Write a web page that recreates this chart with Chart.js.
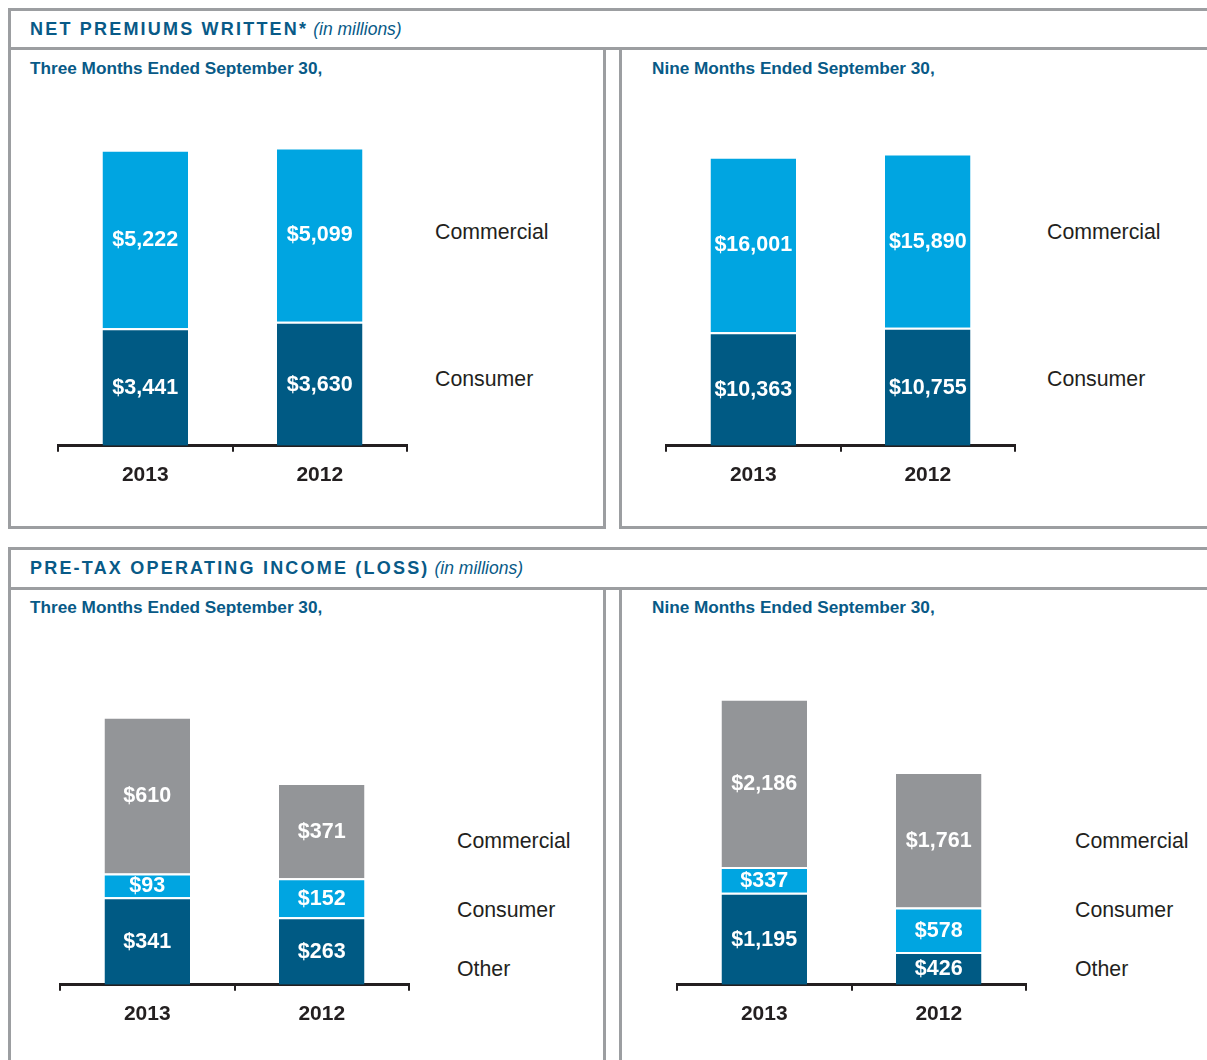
<!DOCTYPE html>
<html>
<head>
<meta charset="utf-8">
<title>Net premiums written / Pre-tax operating income</title>
<script src="https://cdn.jsdelivr.net/npm/chart.js@4.4.0/dist/chart.umd.min.js"></script>
<style>
  body { margin: 0; background: #fff; font-family: "Liberation Sans", Arial, sans-serif; }
  #page { position: relative; width: 1207px; height: 1060px; overflow: hidden; }
  .line { position: absolute; background: #9c9ea1; }
  .head { position: absolute; left: 30px; font-size: 18px; font-weight: bold; letter-spacing: 2.2px; color: #085a87; line-height: 20px; white-space: nowrap; }
  .head i { font-weight: normal; letter-spacing: 0; font-size: 17.5px; margin-left: 5px; }
  .sub { position: absolute; font-size: 17.2px; font-weight: bold; color: #085a87; line-height: 20px; white-space: nowrap; }
  .side { position: absolute; font-size: 21.3px; color: #231f20; line-height: 24px; }
  .chart { position: absolute; width: 390px; height: 410px; }
</style>
</head>
<body>
<div id="page">
  <!-- frame, top block -->
  <div class="line" style="left:8px;top:8px;width:1199px;height:3px"></div>
  <div class="line" style="left:8px;top:47px;width:1199px;height:3px"></div>
  <div class="line" style="left:8px;top:8px;width:3px;height:521px"></div>
  <div class="line" style="left:603px;top:47px;width:3px;height:482px"></div>
  <div class="line" style="left:619px;top:47px;width:3px;height:482px"></div>
  <div class="line" style="left:8px;top:526px;width:598px;height:3px"></div>
  <div class="line" style="left:619px;top:526px;width:588px;height:3px"></div>
  <!-- frame, bottom block -->
  <div class="line" style="left:8px;top:547px;width:1199px;height:3px"></div>
  <div class="line" style="left:8px;top:587px;width:1199px;height:3px"></div>
  <div class="line" style="left:8px;top:547px;width:3px;height:513px"></div>
  <div class="line" style="left:603px;top:587px;width:3px;height:473px"></div>
  <div class="line" style="left:619px;top:587px;width:3px;height:473px"></div>

  <div class="head" style="top:19px">NET PREMIUMS WRITTEN*<i>(in millions)</i></div>
  <div class="sub" style="left:30px;top:58px">Three Months Ended September 30,</div>
  <div class="sub" style="left:652px;top:58px">Nine Months Ended September 30,</div>

  <div class="head" style="top:558px">PRE-TAX OPERATING INCOME (LOSS)<i>(in millions)</i></div>
  <div class="sub" style="left:30px;top:597px">Three Months Ended September 30,</div>
  <div class="sub" style="left:652px;top:597px">Nine Months Ended September 30,</div>

  <div class="chart" style="left:40px;top:90px"><canvas id="npwThree"></canvas></div>
  <div class="chart" style="left:648px;top:90px"><canvas id="npwNine"></canvas></div>
  <div class="chart" style="left:42px;top:629px"><canvas id="ptoiThree"></canvas></div>
  <div class="chart" style="left:659px;top:629px"><canvas id="ptoiNine"></canvas></div>

  <div class="side" style="left:435px;top:220px">Commercial</div>
  <div class="side" style="left:435px;top:367px">Consumer</div>
  <div class="side" style="left:1047px;top:220px">Commercial</div>
  <div class="side" style="left:1047px;top:367px">Consumer</div>

  <div class="side" style="left:457px;top:829px">Commercial</div>
  <div class="side" style="left:457px;top:898px">Consumer</div>
  <div class="side" style="left:457px;top:957px">Other</div>
  <div class="side" style="left:1075px;top:829px">Commercial</div>
  <div class="side" style="left:1075px;top:898px">Consumer</div>
  <div class="side" style="left:1075px;top:957px">Other</div>
</div>

<script>
// data (in millions)
const years = ['2013', '2012']

// net premiums written
const npwThreeCommercial = [5222, 5099]
const npwThreeConsumer = [3441, 3630]
const npwNineCommercial = [16001, 15890]
const npwNineConsumer = [10363, 10755]

// pre-tax operating income, stacked bottom -> top: dark, light, gray
const ptoiThreeDark = [341, 263]
const ptoiThreeLight = [93, 152]
const ptoiThreeGray = [610, 371]
const ptoiNineDark = [1195, 426]
const ptoiNineLight = [337, 578]
const ptoiNineGray = [2186, 1761]

const DARK = '#005a84'
const LIGHT = '#00a5e1'
const GRAY = '#939598'
const INK = '#231f20'
const FONT = '"Liberation Sans", Arial, sans-serif'

// white $ labels in the middle of each segment
const barLabels = {
    id: 'barLabels',
    afterDatasetsDraw(chart) {
        const ctx = chart.ctx
        ctx.save()
        ctx.fillStyle = '#fff'
        ctx.font = 'bold 21.5px ' + FONT
        ctx.textAlign = 'center'
        ctx.textBaseline = 'middle'
        chart.data.datasets.forEach((ds, i) => {
            chart.getDatasetMeta(i).data.forEach((bar, j) => {
                const { x, y, base } = bar.getProps(['x', 'y', 'base'], true)
                ctx.fillText('$' + ds.data[j].toLocaleString('en-US'), x, (y + base) / 2 + 1)
            })
        })
        ctx.restore()
    }
}

function serie(label, data, color) {
    return {
        label: label,
        data: data,
        backgroundColor: color,
        borderColor: '#fff',
        borderWidth: { top: 2, left: 0, right: 0, bottom: 0 },
        borderSkipped: 'start',
        barPercentage: 0.49,
        categoryPercentage: 1
    }
}

function grafico(id, datasets, ymax) {
    return new Chart(document.getElementById(id), {
        type: 'bar',
        data: { labels: years, datasets: datasets },
        options: {
            responsive: true,
            maintainAspectRatio: false,
            animation: false,
            layout: { padding: { left: 18, right: 23, top: 10, bottom: 1 } },
            plugins: { legend: { display: false }, tooltip: { enabled: false } },
            scales: {
                x: {
                    stacked: true,
                    grid: { display: true, drawOnChartArea: false, drawTicks: true, tickLength: 6, color: INK, lineWidth: 2, offset: true },
                    border: { display: true, color: INK, width: 3 },
                    ticks: { color: INK, padding: 11, font: { family: FONT, size: 21, weight: 'bold' } }
                },
                y: { stacked: true, display: false, min: 0, max: ymax }
            }
        },
        plugins: [barLabels]
    })
}

grafico('npwThree', [
    serie('Consumer', npwThreeConsumer, DARK),
    serie('Commercial', npwThreeCommercial, LIGHT)
], 10115)

grafico('npwNine', [
    serie('Consumer', npwNineConsumer, DARK),
    serie('Commercial', npwNineCommercial, LIGHT)
], 31530)

grafico('ptoiThree', [
    serie('Other', ptoiThreeDark, DARK),
    serie('Consumer', ptoiThreeLight, LIGHT),
    serie('Commercial', ptoiThreeGray, GRAY)
], 1347)

grafico('ptoiNine', [
    serie('Other', ptoiNineDark, DARK),
    serie('Consumer', ptoiNineLight, LIGHT),
    serie('Commercial', ptoiNineGray, GRAY)
], 4494)
</script>
</body>
</html>
